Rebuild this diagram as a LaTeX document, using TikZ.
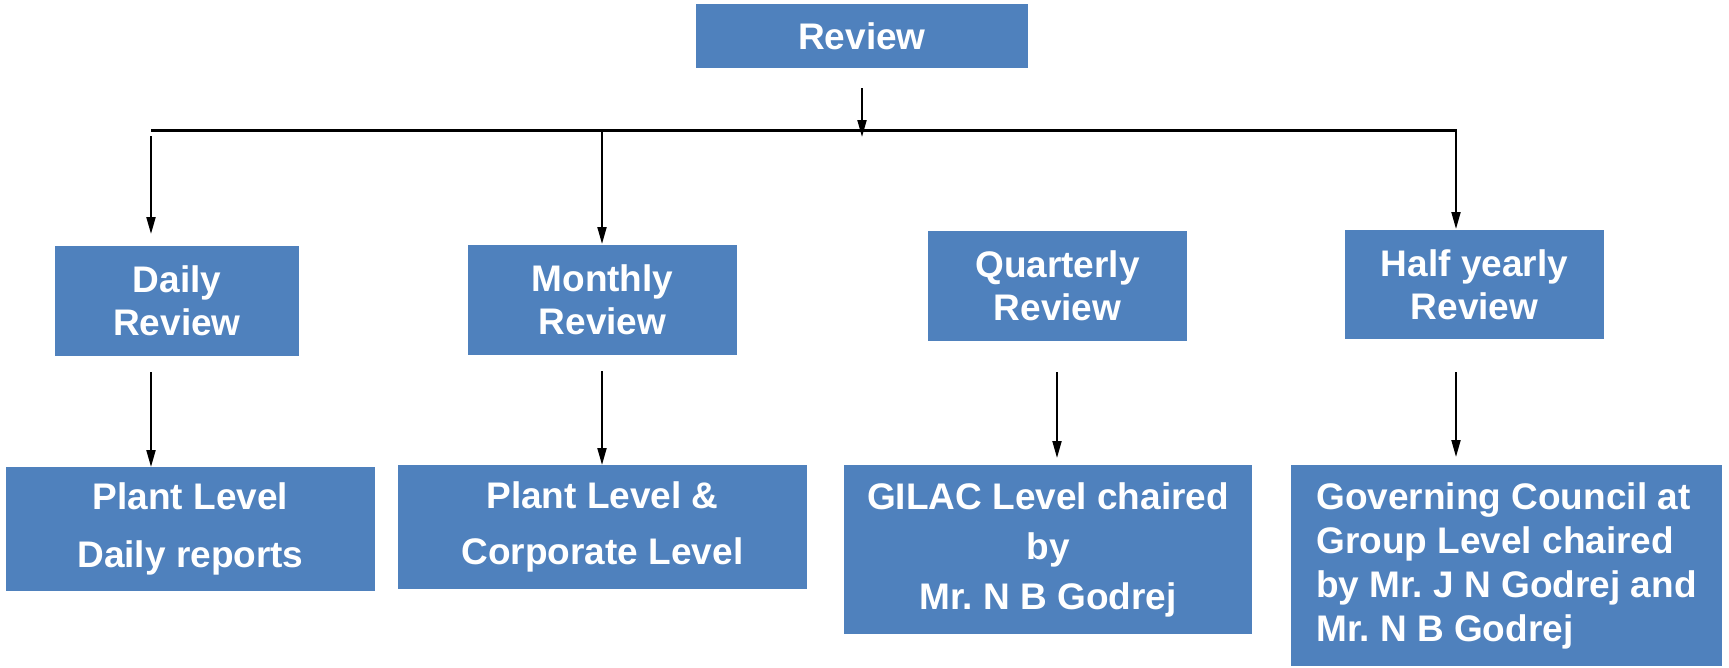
\documentclass[tikz,border=0pt]{standalone}
\usepackage{fontspec}
\setmainfont{Liberation Sans}
\usetikzlibrary{arrows.meta}
\definecolor{boxblue}{HTML}{4F81BD}
\frenchspacing
\begin{document}
\begin{tikzpicture}[x=1pt,y=-1pt,
  box/.style={fill=boxblue, draw=none, text=white, align=center, inner sep=0pt,
    font=\bfseries\fontsize{37}{43}\selectfont},
  arr/.style={line width=2pt, -{Triangle[length=17pt,width=9pt]}}]
\useasboundingbox (0,0) rectangle (1729,667);
% top
\node[box, minimum width=332pt, minimum height=64pt] (review) at (862,36) {Review};
% second row
\node[box, minimum width=244pt, minimum height=110pt] (daily) at (177,301) {Daily\\Review};
\node[box, minimum width=269pt, minimum height=110pt] (monthly) at (602.5,300) {Monthly\\Review};
\node[box, minimum width=259pt, minimum height=110pt] (quarterly) at (1057.5,286) {Quarterly\\Review};
\node[box, minimum width=259pt, minimum height=109pt] (half) at (1474.5,284.5) {Half yearly\\Review};
% third row
\node[box, minimum width=369pt, minimum height=124pt,
  font=\bfseries\fontsize{37}{58}\selectfont] (plant) at (190.5,529) {Plant Level\\Daily reports};
\node[box, minimum width=409pt, minimum height=124pt,
  font=\bfseries\fontsize{37}{56}\selectfont] (corp) at (602.5,527) {Plant Level \&\\Corporate Level};
\node[box, minimum width=408pt, minimum height=169pt,
  font=\bfseries\fontsize{37}{50}\selectfont] (gilac) at (1048,549.5) {GILAC Level chaired\\by\\Mr. N B Godrej};
\node[box, minimum width=431pt, minimum height=201pt, align=left,
  font=\bfseries\fontsize{37}{44}\selectfont] (gov) at (1506.5,565.5) {Governing Council at\\Group Level chaired\\by Mr. J N Godrej and\\Mr. N B Godrej};
% connector points
\coordinate (rs) at (862,88);
\coordinate (re) at (862,137);
\coordinate (hl) at (151,130);
\coordinate (hr) at (1457,130);
\coordinate (d1) at (151,136);
\coordinate (d2) at (151,234);
\coordinate (m1) at (602,130);
\coordinate (m2) at (602,244);
\coordinate (h1) at (1456,130);
\coordinate (h2) at (1456,229);
\coordinate (pd1) at (151,372);
\coordinate (pd2) at (151,467);
\coordinate (pm1) at (602,371);
\coordinate (pm2) at (602,465);
\coordinate (pq1) at (1057,372);
\coordinate (pq2) at (1057,458);
\coordinate (ph1) at (1456,372);
\coordinate (ph2) at (1456,457);
% connectors
\draw[line width=3pt] (hl) -- (hr);
\draw[arr] (rs) -- (re);
\draw[arr] (d1) -- (d2);
\draw[arr] (m1) -- (m2);
\draw[arr] (h1) -- (h2);
\draw[arr] (pd1) -- (pd2);
\draw[arr] (pm1) -- (pm2);
\draw[arr] (pq1) -- (pq2);
\draw[arr] (ph1) -- (ph2);
\end{tikzpicture}
\end{document}
